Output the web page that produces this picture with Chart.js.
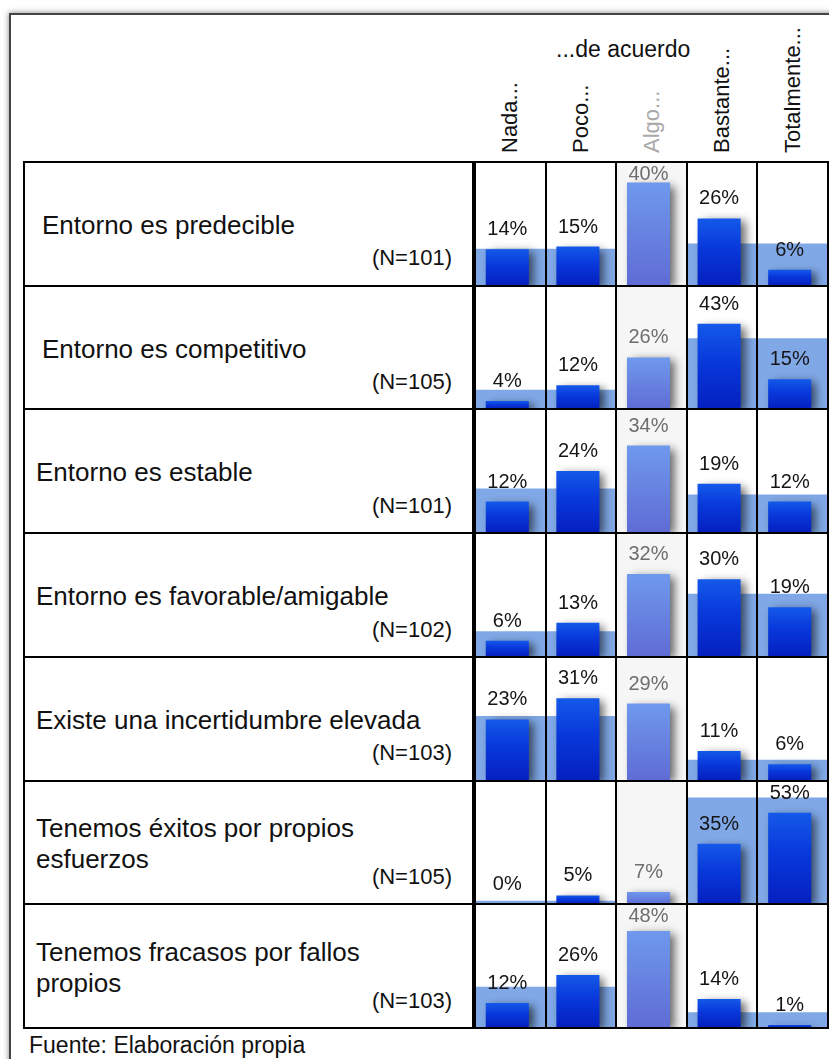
<!DOCTYPE html>
<html><head><meta charset="utf-8">
<script src="https://cdn.jsdelivr.net/npm/chart.js@4.4.1/dist/chart.umd.min.js"></script>
<style>
html,body{margin:0;padding:0;background:#fff;width:829px;height:1059px;overflow:hidden;position:relative;font-family:"Liberation Sans",Arial,Helvetica,sans-serif;color:#111;}
#frame{position:absolute;left:9px;top:13px;width:900px;height:1100px;border:2px solid #444;box-shadow:0 0 6px rgba(0,0,0,0.5);}
.hl{position:absolute;background:#000;height:2px;z-index:5;}
.vl{position:absolute;background:#000;width:2px;z-index:5;}
.rowlab{position:absolute;display:flex;align-items:center;font-size:26px;line-height:31px;box-sizing:border-box;padding-top:3px;}
.nlab{position:absolute;font-size:22px;line-height:22px;text-align:right;width:160px;}
.hdr{position:absolute;font-size:22px;line-height:24px;white-space:nowrap;transform-origin:0 0;transform:rotate(-90deg);}
.txt{position:absolute;white-space:nowrap;}
canvas{position:absolute;}
</style></head><body>
<div id="frame"></div>
<div id="root"></div>
<script>
// ---- data ----
const categories = ['Nada...', 'Poco...', 'Algo...', 'Bastante...', 'Totalmente...'];
const headerTitle = '...de acuerdo';
const statements = [
  'Entorno es predecible',
  'Entorno es competitivo',
  'Entorno es estable',
  'Entorno es favorable/amigable',
  'Existe una incertidumbre elevada',
  'Tenemos éxitos por propios esfuerzos',
  'Tenemos fracasos por fallos propios'
];
const sampleN    = [101, 105, 101, 102, 103, 105, 103];
const nada       = [14, 4, 12, 6, 23, 0, 12];
const poco       = [15, 12, 24, 13, 31, 5, 26];
const algo       = [40, 26, 34, 32, 29, 7, 48];
const bastante   = [26, 43, 19, 30, 11, 35, 14];
const totalmente = [6, 15, 12, 19, 6, 53, 1];
// light background bands (disagree: Nada+Poco, agree: Bastante+Totalmente)
const bandDisagree = [14, 9.5, 17, 9.5, 24.2, 1.7, 20];
const bandAgree    = [16.1, 35.5, 14.6, 24.2, 7.6, 61.7, 7.2];
// per-row y-axis maximum
const rowMax = [48, 62, 48.4, 48, 46.7, 71.4, 61.5];
const sourceNote = 'Fuente: Elaboración propia';

// ---- layout ----
const root = document.getElementById('root');
const tableTop = 162, tableBottom = 1028, tableLeft = 24, tableRight = 828;
const chartLeft = 475, chartWidth = 353, chartHeight = 123;
const barShift = -3;
const rowH = (tableBottom - tableTop) / statements.length;
const colW = chartWidth / categories.length;

function el(cls, css, text){
  const d = document.createElement('div'); d.className = cls;
  Object.assign(d.style, css); if (text != null) d.textContent = text;
  root.appendChild(d); return d;
}

// header
el('txt', {left:'556px', top:'36px', fontSize:'23px', lineHeight:'26px'}, headerTitle);
categories.forEach((c, k) => {
  const cx = chartLeft + (k + 0.5) * colW;
  el('hdr', {left:(cx - 12) + 'px', top:'153px', color: k === 2 ? '#a8a8a8' : '#111'}, c);
});
el('txt', {left:'29px', top:'1034px', fontSize:'23px', lineHeight:'23px'}, sourceNote);

// grid lines
for (let i = 0; i <= statements.length; i++) {
  el('hl', {left:(tableLeft - 1) + 'px', top:(tableTop + i * rowH - 1) + 'px', width:(tableRight - tableLeft + 2) + 'px'});
}
const vTop = (tableTop - 1) + 'px', vH = (tableBottom - tableTop + 2) + 'px';
el('vl', {left:(tableLeft - 1) + 'px', top:vTop, height:vH});
el('vl', {left:'471.5px', top:vTop, height:vH, width:'4px'});
for (let k = 1; k < categories.length; k++) {
  el('vl', {left:(chartLeft + k * colW - 1) + 'px', top:vTop, height:vH});
}
el('vl', {left:(tableRight - 1) + 'px', top:vTop, height:vH});

// plugins
const shadowPlugin = {
  id: 'barShadow',
  beforeDatasetDraw(chart, args) {
    if (args.index === 2) {
      const c = chart.ctx; c.save();
      c.translate(barShift, 0);
      c.shadowColor = 'rgba(0,0,0,0.6)'; c.shadowBlur = 9;
      c.shadowOffsetX = 5; c.shadowOffsetY = 3;
    }
  },
  afterDatasetDraw(chart, args) { if (args.index === 2) chart.ctx.restore(); }
};
const labelPlugin = {
  id: 'pctLabels',
  afterDatasetsDraw(chart) {
    const meta = chart.getDatasetMeta(2), c = chart.ctx, ds = chart.data.datasets[2].data;
    c.save();
    c.font = '20px "Liberation Sans", Arial, sans-serif';
    c.textAlign = 'center'; c.textBaseline = 'alphabetic';
    meta.data.forEach((bar, j) => {
      c.fillStyle = j === 2 ? '#6e6e6e' : '#151515';
      c.fillText(ds[j] + '%', bar.x + barShift, Math.max(bar.y - 14, 18));
    });
    c.restore();
  }
};
function barFill(ctx) {
  const chart = ctx.chart;
  const solid = ctx.dataIndex === 2 ? '#6680e0' : '#0a35d8';
  if (ctx.raw == null) return solid;
  const h = chart.height || chartHeight;
  const max = chart.options.scales.y.max;
  const top = h * (1 - ctx.raw / max), base = h;
  if (!isFinite(top) || !isFinite(base)) return solid;
  const g = chart.ctx.createLinearGradient(0, top, 0, Math.max(base, top + 1));
  if (ctx.dataIndex === 2) { g.addColorStop(0, '#6f99ec'); g.addColorStop(1, '#5f6cd5'); }
  else { g.addColorStop(0, '#1459e9'); g.addColorStop(0.45, '#0838db'); g.addColorStop(1, '#0520bf'); }
  return g;
}

statements.forEach((s, i) => {
  const top = tableTop + i * rowH;
  el('rowlab', {left:(i < 2 ? 42 : 36) + 'px', top:top + 'px', height:rowH + 'px', width:'400px'}, s);
  el('nlab', {left:(452 - 160) + 'px', top:(top + 85.4) + 'px'}, '(N=' + sampleN[i] + ')');

  const cv = document.createElement('canvas');
  cv.width = chartWidth; cv.height = chartHeight;
  cv.style.left = chartLeft + 'px'; cv.style.top = top + 'px';
  cv.style.width = chartWidth + 'px'; cv.style.height = chartHeight + 'px';
  root.appendChild(cv);
  const vals = [nada[i], poco[i], algo[i], bastante[i], totalmente[i]];
  new Chart(cv, {
    type: 'bar',
    data: {
      labels: categories,
      datasets: [
        {data:[null, null, rowMax[i], null, null], backgroundColor:'#f6f6f6',
         barPercentage:1, categoryPercentage:1, grouped:false, order:3},
        {data:[bandDisagree[i], bandDisagree[i], null, bandAgree[i], bandAgree[i]], backgroundColor:'#80a8e6',
         barPercentage:1, categoryPercentage:1, grouped:false, order:2},
        {data:vals, backgroundColor:barFill, borderWidth:0,
         barPercentage:0.61, categoryPercentage:1, grouped:false, order:1}
      ]
    },
    options: {
      responsive:false, animation:false, events:[], devicePixelRatio:1,
      layout:{padding:0},
      plugins:{legend:{display:false}, tooltip:{enabled:false}},
      scales:{x:{display:false}, y:{display:false, min:0, max:rowMax[i]}}
    },
    plugins:[shadowPlugin, labelPlugin]
  });
});
</script>
</body></html>
